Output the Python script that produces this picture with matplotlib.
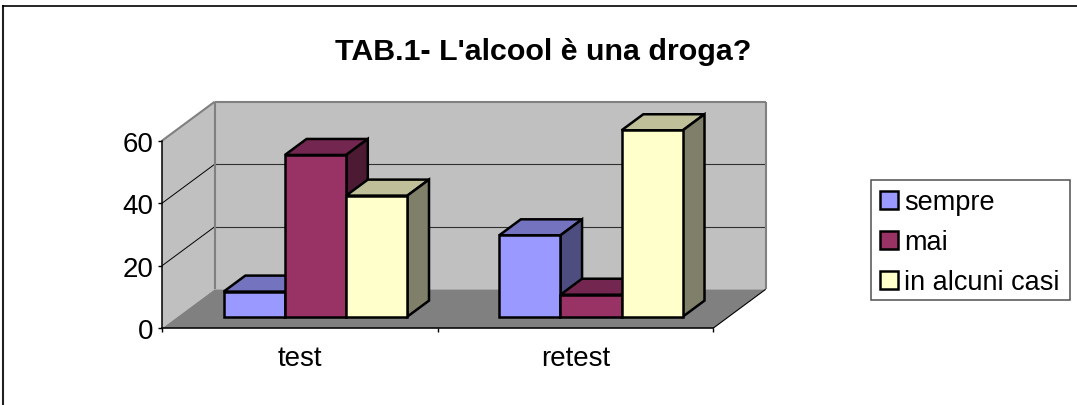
import matplotlib
matplotlib.use('Agg')
import matplotlib.pyplot as plt
from matplotlib.patches import Polygon, Rectangle
from matplotlib.lines import Line2D

# data
categories = ['test', 'retest']
series_names = ['sempre', 'mai', 'in alcuni casi']
sempre = [8, 26]
mai = [51.7, 7]
alcuni_casi = [38.7, 59.6]
y_ticks = [0, 20, 40, 60]

W, H = 1077, 406
plt.rcParams['font.family'] = ['Liberation Sans', 'DejaVu Sans']

front_cols = ['#9999FF', '#993366', '#FFFFCC']
top_cols = ['#7373BF', '#732650', '#BFBF99']
side_cols = ['#4D4D80', '#4D1A33', '#80806A']

fig = plt.figure(figsize=(W / 100, H / 100), dpi=100)

# front plane of the chart: 162..713 px wide, value 0 at 329, value 60 at 141.7
x0, x1 = 162, 713
y0, y60 = 329.3, 141.7
ax = fig.add_axes([x0 / W, 1 - y0 / H, (x1 - x0) / W, (y0 - y60) / H])
ax.set_xlim(0, len(categories))
ax.set_ylim(0, y_ticks[-1])
ax.patch.set_visible(False)

# depth of the box in data units
depth_x = 52.7 / (x1 - x0) * len(categories)
depth_y = 39.0 / (y0 - y60) * y_ticks[-1]


def proj(x, y, d=0.0):
    return (x + d * depth_x, y + d * depth_y)


def poly(points, face, edge='none', lw=0.0, z=1):
    ax.add_patch(Polygon(points, closed=True, facecolor=face, edgecolor=edge, linewidth=lw,
                         joinstyle='miter', clip_on=False, zorder=z))


def seg(a, b, color, lw, z=2):
    ax.add_line(Line2D([a[0], b[0]], [a[1], b[1]], color=color, linewidth=lw, clip_on=False,
                       solid_capstyle='butt', zorder=z))


top = y_ticks[-1]
n = len(categories)
# walls and floor
poly([proj(0, 0), proj(0, top), proj(0, top, 1), proj(0, 0, 1)], '#C0C0C0')
poly([proj(0, 0, 1), proj(0, top, 1), proj(n, top, 1), proj(n, 0, 1)], '#C0C0C0')
poly([proj(0, 0), proj(n, 0), proj(n, 0, 1), proj(0, 0, 1)], '#808080')

# gridlines
for v in y_ticks[1:-1]:
    seg(proj(0, v), proj(0, v, 1), '#000000', 0.7)
    seg(proj(0, v, 1), proj(n, v, 1), '#303030', 0.8)

# wall edges
seg(proj(0, top), proj(0, top, 1), '#808080', 1.5)
seg(proj(0, top, 1), proj(n, top, 1), '#808080', 1.5)
seg(proj(n, top, 1), proj(n, 0, 1), '#808080', 1.5)
seg(proj(0, 0, 1), proj(0, top, 1), '#808080', 1.5)
seg(proj(n, 0), proj(n, 0, 1), '#000000', 0.8)

# bars
bar_w = 1 / 4.5
bar_d0 = 0.30
bar_d1 = 0.71
values = [sempre, mai, alcuni_casi]
edge_lw = 1.8
for c in range(n):
    start = c + 0.75 * bar_w
    for s in range(len(values)):
        left = start + s * bar_w
        right = left + bar_w
        v = values[s][c]
        poly([proj(left, 0, bar_d0), proj(right, 0, bar_d0), proj(right, v, bar_d0), proj(left, v, bar_d0)],
             front_cols[s], 'black', edge_lw, z=5 + s * 3 + 2)
        poly([proj(left, v, bar_d0), proj(right, v, bar_d0), proj(right, v, bar_d1), proj(left, v, bar_d1)],
             top_cols[s], 'black', edge_lw, z=5 + s * 3)
        poly([proj(right, 0, bar_d0), proj(right, 0, bar_d1), proj(right, v, bar_d1), proj(right, v, bar_d0)],
             side_cols[s], 'black', edge_lw, z=5 + s * 3 + 1)

# axes
for name in ['top', 'right']:
    ax.spines[name].set_visible(False)
ax.spines['left'].set_linewidth(1.1)
ax.spines['bottom'].set_linewidth(1.1)
ax.spines['left'].set_zorder(3)
ax.spines['bottom'].set_zorder(3)
ax.set_yticks(y_ticks)
ax.set_xticks(range(n + 1))
ax.set_xticklabels([])
ax.set_xticks([c + 0.5 for c in range(n)], minor=True)
ax.set_xticklabels(categories, minor=True)
ax.tick_params(axis='y', length=3, width=1.0, labelsize=20, pad=3)
ax.tick_params(axis='x', which='major', length=3, width=1.0)
ax.tick_params(axis='x', which='minor', length=0, labelsize=20, pad=12)

# title
fig.text(543.5 / W, 1 - 60 / H, "TAB.1- L'alcool è una droga?", ha='center', va='baseline',
         fontsize=21.9, fontweight='bold')


def px_rect(x, y, w, h, face, edge, lw):
    fig.add_artist(Rectangle((x / W, 1 - (y + h) / H), w / W, h / H, transform=fig.transFigure,
                             facecolor=face, edgecolor=edge, linewidth=lw, joinstyle='miter'))


# legend
px_rect(871, 180.7, 199, 120, 'white', '#505050', 1.1)
for i, name in enumerate(series_names):
    cy = 201 + i * 40
    px_rect(880, cy - 9, 18, 18, front_cols[i], 'black', 1.8)
    fig.text(904 / W, 1 - (cy + 9.5) / H, name, ha='left', va='baseline', fontsize=19.5)

# outer border, only top and left show
fig.add_artist(Line2D([3.5 / W, 3.5 / W], [0, 1 - 6.5 / H], color='#202020', linewidth=1.5,
                      transform=fig.transFigure, solid_capstyle='projecting'))
fig.add_artist(Line2D([3.5 / W, 1], [1 - 6.5 / H, 1 - 6.5 / H], color='black', linewidth=1.2,
                      transform=fig.transFigure, solid_capstyle='projecting'))

fig.savefig('out.png', dpi=100)
